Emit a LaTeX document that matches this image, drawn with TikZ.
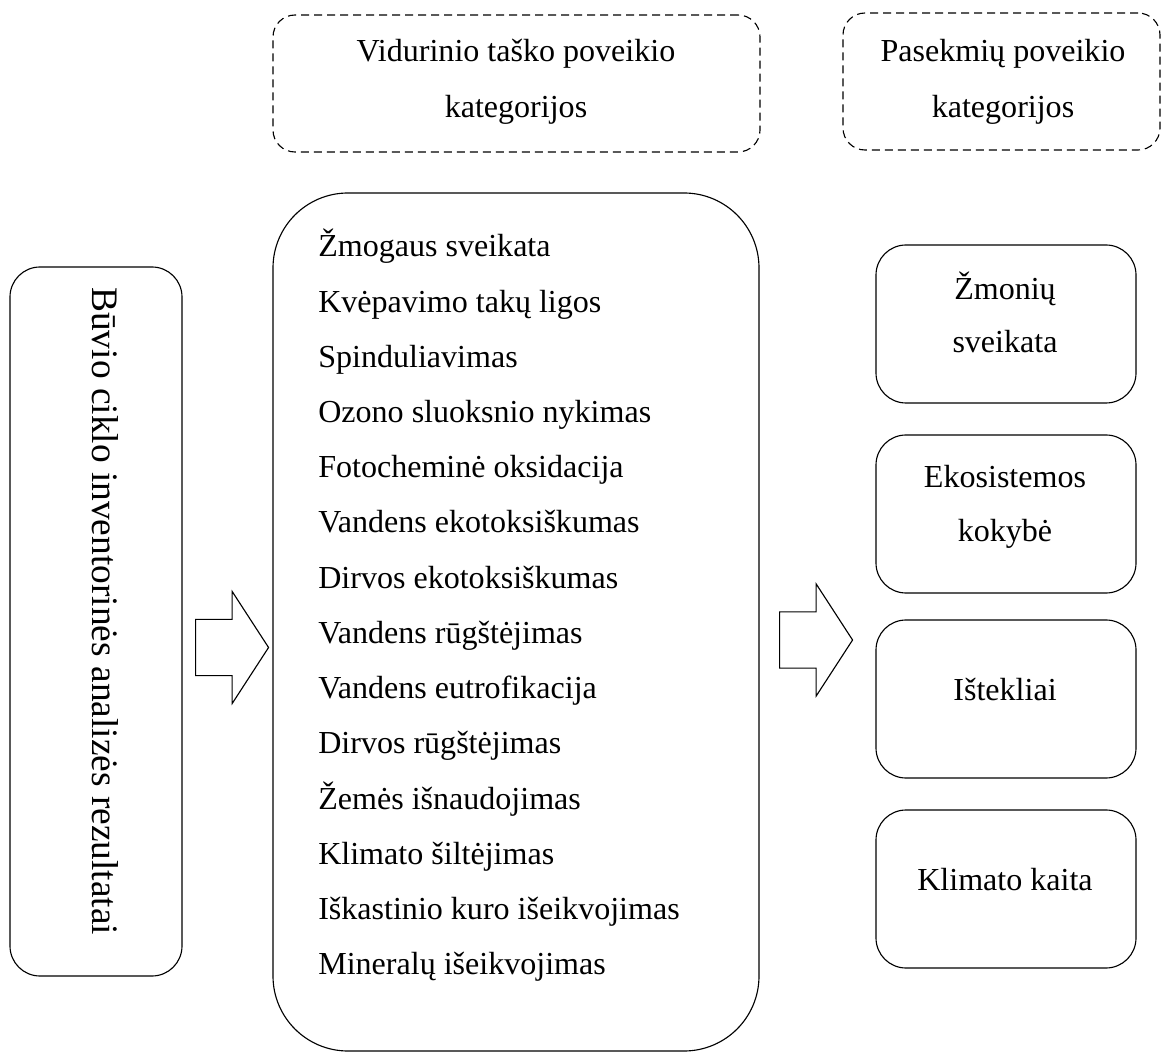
\documentclass[tikz,border=0pt]{standalone}
\usepackage{fontspec}
\setmainfont{Liberation Serif}
\usetikzlibrary{positioning, shapes.arrows}

\begin{document}
\begin{tikzpicture}[
    x=0.25mm, y=-0.25mm, % one unit = one pixel of the original
    % Styles
    box/.style={ % Solid rounded box
        rectangle,
        rounded corners=7.5mm,
        draw,
        line width=0.8pt,
        inner sep=0pt
    },
    bigbox/.style={
        box,
        rounded corners=18.75mm
    },
    headbox/.style={ % Dashed heading box
        box,
        rounded corners=5.5mm,
        dash pattern=on 2mm off 1.25mm
    },
    txt/.style={
        font=\fontsize{22.8}{27}\selectfont,
        inner sep=0pt,
        anchor=base
    },
    item/.style={
        txt,
        anchor=base west
    },
    blockarrow/.style={ % Hollow block arrow
        single arrow,
        draw,
        line width=0.8pt,
        minimum height=18.25mm,
        inner xsep=0pt,
        inner ysep=6.875mm,
        single arrow head extend=7mm,
        single arrow tip angle=114,
        anchor=tail
    }
]

    \useasboundingbox (0,0) rectangle (1161,1053);

    % Heading boxes
    \node[headbox, minimum width=121.75mm, minimum height=34.25mm] (midhead) at (516.5,83.5) {};
    \node[headbox, minimum width=79.25mm, minimum height=34.25mm] (endhead) at (1001.5,81.5) {};
    \node[txt] (midhead1) at (516,62) {Vidurinio taško poveikio};
    \node[txt] (midhead2) at (516,118) {kategorijos};
    \node[txt] (endhead1) at (1003,62) {Pasekmių poveikio};
    \node[txt] (endhead2) at (1003,118) {kategorijos};

    % Inventory results
    \node[box, minimum width=43mm, minimum height=177.25mm] (lci) at (96,621.5) {};
    \node[txt, rotate=-90, anchor=base west, font=\fontsize{26.6}{31}\selectfont] (lcitext) at (92,287) {Būvio ciklo inventorinės analizės rezultatai};

    % Midpoint categories
    \node[bigbox, minimum width=121.5mm, minimum height=214.5mm] (mid) at (516,622) {};
    \foreach \t [count=\i from 0] in {Žmogaus sveikata, Kvėpavimo takų ligos, Spinduliavimas,
        Ozono sluoksnio nykimas, Fotocheminė oksidacija, Vandens ekotoksiškumas,
        Dirvos ekotoksiškumas, Vandens rūgštėjimas, Vandens eutrofikacija,
        Dirvos rūgštėjimas, Žemės išnaudojimas, Klimato šiltėjimas,
        Iškastinio kuro išeikvojimas, Mineralų išeikvojimas}
        \node[item] (m\i) at (318,257+55.2*\i) {\t};

    % Endpoint categories
    \node[box, minimum width=65mm, minimum height=39.5mm] (health) at (1006,324) {};
    \node[box, minimum width=65mm, minimum height=39.5mm] (eco) at (1006,514) {};
    \node[box, minimum width=65mm, minimum height=39.5mm] (res) at (1006,699) {};
    \node[box, minimum width=65mm, minimum height=39.5mm] (clim) at (1006,889) {};
    \node[txt] (health1) at (1005,300) {Žmonių};
    \node[txt] (health2) at (1005,353) {sveikata};
    \node[txt] (eco1) at (1005,488) {Ekosistemos};
    \node[txt] (eco2) at (1005,542) {kokybė};
    \node[txt] (restext) at (1005,700) {Ištekliai};
    \node[txt] (climtext) at (1005,890) {Klimato kaita};

    % Block arrows between the columns
    \node[blockarrow] (arrowA) at (195,647.5) {};
    \node[blockarrow] (arrowB) at (779,640) {};

\end{tikzpicture}
\end{document}
